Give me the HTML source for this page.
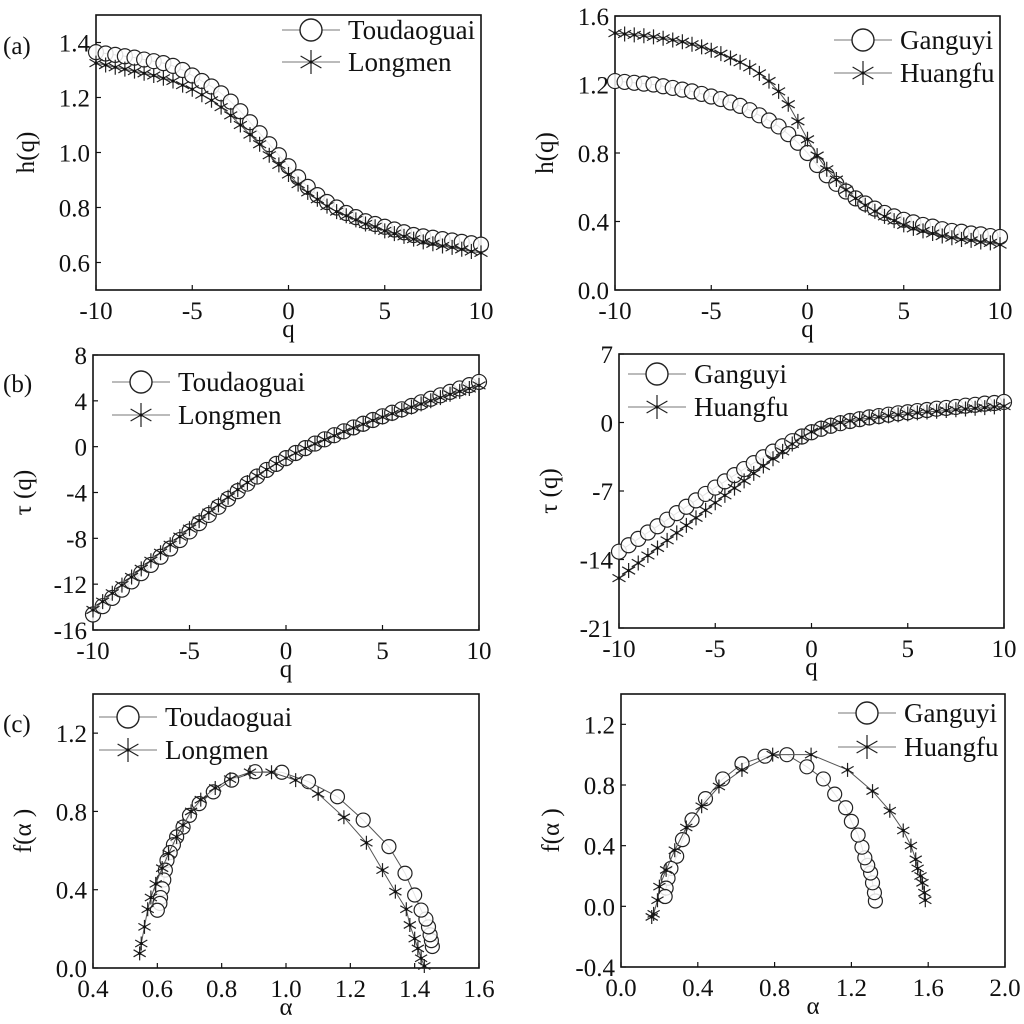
<!DOCTYPE html>
<html><head><meta charset="utf-8">
<style>
html,body{margin:0;padding:0;background:#fff;}
svg{display:block;}
svg text{font-family:"Liberation Serif","Times New Roman",serif;}
</style></head>
<body>
<svg id="fig" width="1024" height="1024" viewBox="0 0 1024 1024" xmlns="http://www.w3.org/2000/svg" font-family="Liberation Serif, serif"></svg>
<script>
const qVals = [-10,-9.5,-9,-8.5,-8,-7.5,-7,-6.5,-6,-5.5,-5,-4.5,-4,-3.5,-3,-2.5,-2,-1.5,-1,-0.5,0,0.5,1,1.5,2,2.5,3,3.5,4,4.5,5,5.5,6,6.5,7,7.5,8,8.5,9,9.5,10];
const hToud = [1.365,1.36,1.355,1.35,1.345,1.338,1.332,1.325,1.315,1.30,1.28,1.26,1.24,1.215,1.185,1.15,1.11,1.07,1.03,0.99,0.95,0.91,0.875,0.845,0.82,0.80,0.78,0.765,0.75,0.74,0.73,0.72,0.71,0.70,0.695,0.69,0.685,0.68,0.675,0.67,0.665];
const hLong = [1.325,1.318,1.31,1.303,1.296,1.288,1.28,1.27,1.26,1.245,1.23,1.21,1.19,1.165,1.135,1.10,1.065,1.03,0.99,0.955,0.92,0.885,0.855,0.83,0.805,0.785,0.77,0.755,0.74,0.73,0.715,0.705,0.695,0.685,0.675,0.668,0.66,0.655,0.648,0.64,0.635];
const hGang = [1.22,1.215,1.21,1.205,1.2,1.19,1.18,1.17,1.16,1.145,1.13,1.115,1.095,1.075,1.05,1.02,0.99,0.955,0.91,0.86,0.80,0.73,0.67,0.62,0.575,0.535,0.505,0.475,0.45,0.43,0.41,0.395,0.38,0.37,0.355,0.345,0.34,0.33,0.325,0.315,0.31];
const hHuang = [1.5,1.495,1.49,1.485,1.478,1.47,1.46,1.45,1.435,1.42,1.40,1.38,1.355,1.33,1.30,1.265,1.22,1.16,1.085,0.985,0.88,0.785,0.705,0.645,0.585,0.535,0.495,0.46,0.43,0.405,0.38,0.36,0.345,0.33,0.315,0.305,0.295,0.29,0.28,0.275,0.265];
const tauToud = [-14.65,-13.92,-13.20,-12.48,-11.76,-11.04,-10.32,-9.61,-8.89,-8.15,-7.40,-6.67,-5.96,-5.25,-4.56,-3.88,-3.22,-2.61,-2.03,-1.50,-1.0,-0.55,-0.13,0.27,0.64,1.0,1.34,1.68,2.0,2.33,2.65,2.96,3.26,3.55,3.87,4.18,4.48,4.78,5.08,5.37,5.65];
const tauLong = [-14.25,-13.52,-12.79,-12.08,-11.37,-10.66,-9.96,-9.26,-8.56,-7.85,-7.15,-6.45,-5.76,-5.08,-4.41,-3.75,-3.13,-2.55,-1.99,-1.48,-1.0,-0.56,-0.15,0.25,0.61,0.96,1.31,1.64,1.96,2.29,2.58,2.88,3.17,3.45,3.73,4.01,4.28,4.57,4.83,5.08,5.35];
const tauGang = [-13.2,-12.54,-11.89,-11.24,-10.6,-9.93,-9.26,-8.61,-7.96,-7.30,-6.65,-6.02,-5.38,-4.76,-4.15,-3.55,-2.98,-2.43,-1.91,-1.43,-1.0,-0.64,-0.33,-0.07,0.15,0.34,0.52,0.66,0.8,0.94,1.05,1.17,1.28,1.41,1.49,1.59,1.72,1.81,1.93,1.99,2.1];
const tauHuang = [-15.9,-15.13,-14.36,-13.59,-12.82,-12.05,-11.28,-10.51,-9.74,-8.97,-8.2,-7.45,-6.7,-5.96,-5.2,-4.45,-3.7,-2.95,-2.2,-1.5,-0.95,-0.55,-0.25,0.0,0.17,0.32,0.45,0.56,0.68,0.78,0.88,0.98,1.07,1.15,1.22,1.3,1.38,1.45,1.52,1.6,1.67];
const aToud = [1.455,1.452,1.448,1.443,1.435,1.42,1.40,1.37,1.32,1.24,1.16,1.07,0.987,0.904,0.831,0.774,0.73,0.70,0.68,0.66,0.65,0.64,0.63,0.625,0.62,0.615,0.61,0.608,0.60];
const fToud = [0.11,0.14,0.17,0.21,0.25,0.296,0.373,0.484,0.62,0.756,0.875,0.952,1.0,1.003,0.96,0.90,0.84,0.78,0.72,0.67,0.63,0.59,0.55,0.50,0.45,0.405,0.36,0.33,0.295];
const aLong = [1.43,1.42,1.41,1.40,1.385,1.374,1.34,1.30,1.25,1.18,1.10,1.03,0.955,0.888,0.826,0.78,0.735,0.705,0.68,0.66,0.635,0.615,0.595,0.58,0.57,0.56,0.55,0.545];
const fLong = [0.01,0.05,0.10,0.15,0.22,0.30,0.39,0.50,0.64,0.77,0.89,0.96,1.0,1.0,0.965,0.92,0.86,0.80,0.73,0.67,0.585,0.51,0.43,0.36,0.30,0.21,0.125,0.075];
const aGang = [1.325,1.32,1.31,1.30,1.285,1.27,1.255,1.235,1.20,1.17,1.113,1.054,0.968,0.864,0.75,0.63,0.53,0.44,0.37,0.32,0.29,0.26,0.245,0.235,0.23];
const fGang = [0.035,0.09,0.155,0.22,0.27,0.32,0.39,0.47,0.56,0.65,0.74,0.84,0.92,1.0,0.99,0.94,0.84,0.71,0.57,0.44,0.33,0.25,0.185,0.12,0.065];
const aHuang = [1.585,1.58,1.57,1.56,1.545,1.535,1.51,1.47,1.40,1.31,1.18,0.99,0.79,0.63,0.51,0.42,0.34,0.28,0.235,0.20,0.19,0.17,0.16];
const fHuang = [0.04,0.09,0.155,0.20,0.25,0.31,0.40,0.50,0.63,0.76,0.90,1.0,1.0,0.90,0.79,0.66,0.52,0.37,0.24,0.13,0.04,-0.05,-0.07];
const qTicks = [-10,-5,0,5,10];

const NS = "http://www.w3.org/2000/svg";
const svg = document.getElementById('fig');
const FONT = '"Liberation Serif", serif';
function el(tag, attrs, parent){
  const e = document.createElementNS(NS, tag);
  for (const k in attrs) e.setAttribute(k, attrs[k]);
  if (tag === 'text') e.style.fontFamily = FONT;
  (parent||svg).appendChild(e);
  return e;
}
function fmt(v,d){ return d===0 ? String(v) : v.toFixed(d); }

function drawPanel(cfg){
  const g = el('g', {});
  
  
  const {x0,x1,y0,y1,xmin,xmax,ymin,ymax} = cfg;
  const sx = v => x0 + (v - xmin)/(xmax - xmin)*(x1 - x0);
  const sy = v => y1 - (v - ymin)/(ymax - ymin)*(y1 - y0);
  const frame = el('rect', {x:x0, y:y0, width:x1-x0, height:y1-y0, fill:'none', stroke:'#111', 'stroke-width':1.6}, g);
  
  
  cfg.xticks.forEach(t => {
    const X = sx(t);
    el('line', {x1:X, x2:X, y1:y1, y2:y1-5, stroke:'#111','stroke-width':1.2}, g);
    const tx = el('text', {x:X, y:y1+29, 'font-size':25, 'text-anchor':'middle', fill:'#111'}, g);
    tx.textContent = fmt(t, cfg.xdec);
    
    
  });
  cfg.yticks.forEach(t => {
    const Y = sy(t);
    el('line', {x1:x0, x2:x0+5, y1:Y, y2:Y, stroke:'#111','stroke-width':1.2}, g);
    const ty = el('text', {x:x0-6, y:Y+9, 'font-size':25, 'text-anchor':'end', fill:'#111'}, g);
    ty.textContent = fmt(t, cfg.ydec);
    
    
  });
  const xt = el('text', {x:(x0+x1)/2, y:y1+47, 'font-size':25, 'text-anchor':'middle', fill:'#111'}, g);
  xt.textContent = cfg.xlabel;
  
  
  const ytx = x0 - 62, yty = (y0+y1)/2;
  const yt = el('text', {x:ytx, y:yty, 'font-size':25, 'text-anchor':'middle', fill:'#111', transform:`rotate(-90 ${ytx} ${yty})`}, g);
  yt.textContent = cfg.ylabel;
  
  
  if (cfg.panel){
    const pl = el('text', {x:3, y:cfg.panelY, 'font-size':25, fill:'#111'}, g);
    pl.textContent = cfg.panel;
    
    
  }
  cfg.series.forEach(s => {
    const sg = el('g', {}, g);
    
    
    const pts = s.xs.map((xv,i) => [sx(xv), sy(s.ys[i])]);
    el('polyline', {points: pts.map(p=>p.join(',')).join(' '), fill:'none', stroke:'#555', 'stroke-width':1}, sg);
    pts.forEach(p => {
      if (s.type === 'circle'){
        const c = el('circle', {cx:p[0], cy:p[1], r:cfg.r, fill:'#fff', 'fill-opacity':0.85, stroke:'#222', 'stroke-width':1.2}, sg);
        
        
      } else {
        drawStar(sg, p[0], p[1], cfg.r);
      }
    });
  });
  cfg.legend.forEach((L) => {
    const lg = el('g', {}, g);
    
    
    const ly = L.y;
    el('line', {x1:L.x-29, x2:L.x+29, y1:ly, y2:ly, stroke:'#777','stroke-width':1}, lg);
    if (L.type === 'circle') el('circle', {cx:L.x, cy:ly, r:11, fill:'#fff', stroke:'#222','stroke-width':1.4}, lg);
    else drawStar(lg, L.x, ly, 12);
    const t = el('text', {x:L.x+37, y:ly+9, 'font-size':27, fill:'#111'}, lg);
    t.textContent = L.label;
    
    
  });
}
function drawStar(parent, x, y, r){
  const sg = el('g', {}, parent);
  
  
  const d = r*0.866, h = r*0.5;
  el('path', {d:`M${x},${y-r}L${x},${y+r}M${x-d},${y-h}L${x+d},${y+h}M${x-d},${y+h}L${x+d},${y-h}`, stroke:'#222','stroke-width':1.2}, sg);
  el('circle', {cx:x, cy:y, r:1.6, fill:'#111'}, sg);
}

drawPanel({name:'panel-a-left', x0:96,x1:481,y0:15,y1:290, xmin:-10,xmax:10,ymin:0.5,ymax:1.5, xticks:qTicks, yticks:[0.6,0.8,1.0,1.2,1.4], xdec:0, ydec:1, xlabel:'q', ylabel:'h(q)', panel:'(a)', panelY:54, r:7.5,
  series:[{name:'series-toudaoguai', type:'circle', xs:qVals, ys:hToud},{name:'series-longmen', type:'star', xs:qVals, ys:hLong}],
  legend:[{x:311,y:30,type:'circle',label:'Toudaoguai'},{x:311,y:62,type:'star',label:'Longmen'}]});
drawPanel({name:'panel-a-right', x0:615,x1:1000,y0:16,y1:290, xmin:-10,xmax:10,ymin:0,ymax:1.6, xticks:qTicks, yticks:[0,0.4,0.8,1.2,1.6], xdec:0, ydec:1, xlabel:'q', ylabel:'h(q)', r:7.5,
  series:[{name:'series-ganguyi', type:'circle', xs:qVals, ys:hGang},{name:'series-huangfu', type:'star', xs:qVals, ys:hHuang}],
  legend:[{x:863,y:40,type:'circle',label:'Ganguyi'},{x:863,y:73,type:'star',label:'Huangfu'}]});
drawPanel({name:'panel-b-left', x0:93,x1:479,y0:355,y1:630, xmin:-10,xmax:10,ymin:-16,ymax:8, xticks:qTicks, yticks:[-16,-12,-8,-4,0,4,8], xdec:0, ydec:0, xlabel:'q', ylabel:'τ (q)', panel:'(b)', panelY:392, r:7.5,
  series:[{name:'series-toudaoguai', type:'circle', xs:qVals, ys:tauToud},{name:'series-longmen', type:'star', xs:qVals, ys:tauLong}],
  legend:[{x:141,y:382,type:'circle',label:'Toudaoguai'},{x:141,y:415,type:'star',label:'Longmen'}]});
drawPanel({name:'panel-b-right', x0:619,x1:1004,y0:354,y1:628, xmin:-10,xmax:10,ymin:-21,ymax:7, xticks:qTicks, yticks:[-21,-14,-7,0,7], xdec:0, ydec:0, xlabel:'q', ylabel:'τ (q)', r:7.5,
  series:[{name:'series-ganguyi', type:'circle', xs:qVals, ys:tauGang},{name:'series-huangfu', type:'star', xs:qVals, ys:tauHuang}],
  legend:[{x:657,y:374,type:'circle',label:'Ganguyi'},{x:657,y:407,type:'star',label:'Huangfu'}]});
drawPanel({name:'panel-c-left', x0:93,x1:479,y0:694,y1:968, xmin:0.4,xmax:1.6,ymin:0,ymax:1.4, xticks:[0.4,0.6,0.8,1.0,1.2,1.4,1.6], yticks:[0,0.4,0.8,1.2], xdec:1, ydec:1, xlabel:'α', ylabel:'f(α )', panel:'(c)', panelY:732, r:7,
  series:[{name:'series-toudaoguai', type:'circle', xs:aToud, ys:fToud},{name:'series-longmen', type:'star', xs:aLong, ys:fLong}],
  legend:[{x:128,y:717,type:'circle',label:'Toudaoguai'},{x:128,y:750,type:'star',label:'Longmen'}]});
drawPanel({name:'panel-c-right', x0:621,x1:1005,y0:694,y1:967, xmin:0,xmax:2,ymin:-0.4,ymax:1.4, xticks:[0,0.4,0.8,1.2,1.6,2.0], yticks:[-0.4,0,0.4,0.8,1.2], xdec:1, ydec:1, xlabel:'α', ylabel:'f(α )', r:7,
  series:[{name:'series-ganguyi', type:'circle', xs:aGang, ys:fGang},{name:'series-huangfu', type:'star', xs:aHuang, ys:fHuang}],
  legend:[{x:867,y:713,type:'circle',label:'Ganguyi'},{x:867,y:747,type:'star',label:'Huangfu'}]});
</script>
</body></html>
